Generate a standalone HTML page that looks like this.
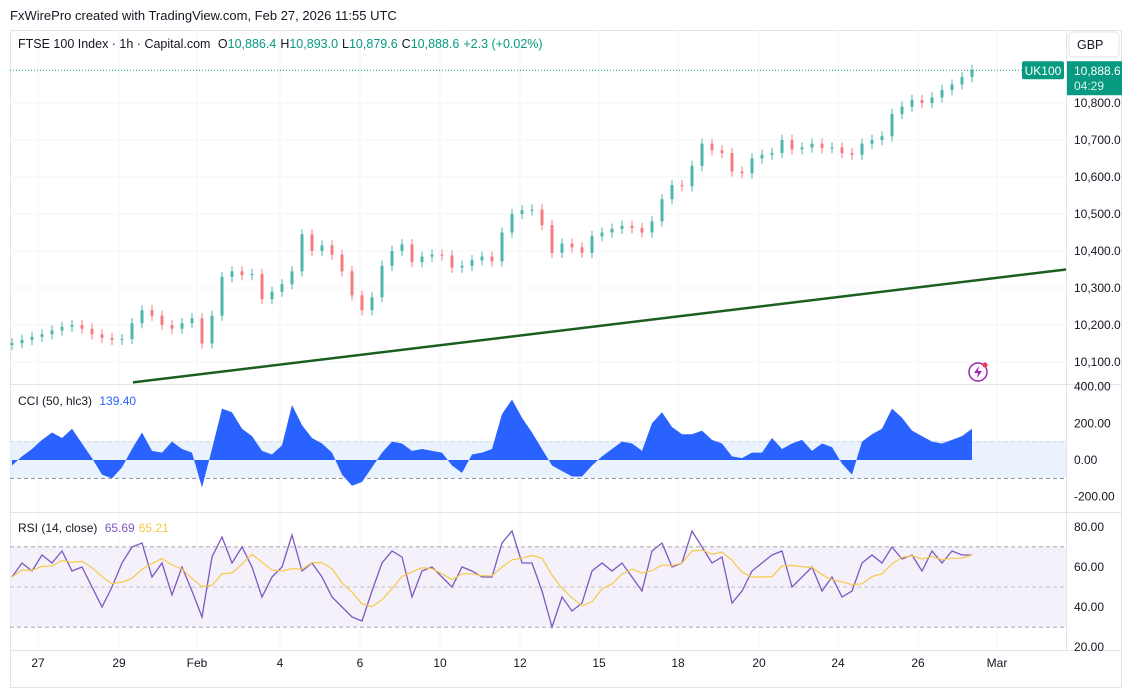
<!DOCTYPE html>
<html><head><meta charset="utf-8"><style>
body{margin:0;background:#fff;font-family:"Liberation Sans",sans-serif;}
svg text{font-family:"Liberation Sans",sans-serif;}
</style></head><body>
<svg id="c" width="1122" height="688" xmlns="http://www.w3.org/2000/svg">
<rect width="1122" height="688" fill="#fff"/>
<text x="10" y="20" font-size="13" fill="#131722">FxWirePro created with TradingView.com, Feb 27, 2026 11:55 UTC</text>
<rect x="10.5" y="30.5" width="1111" height="657" fill="none" stroke="#e0e3eb"/>
<g id="grid"></g>
<rect x="10" y="441" width="1056" height="37" fill="#e3effd" opacity="0.8"/>
<rect x="10" y="547" width="1056" height="80" fill="#ede7f6" opacity="0.6"/>
<g id="marks"></g>
<line x1="10" y1="384.5" x2="1122" y2="384.5" stroke="#e0e3eb"/>
<line x1="10" y1="512.5" x2="1122" y2="512.5" stroke="#e0e3eb"/>
<line x1="10" y1="650.5" x2="1122" y2="650.5" stroke="#e0e3eb"/>
<line x1="1066.5" y1="30" x2="1066.5" y2="650" stroke="#e0e3eb"/>
<text x="18" y="48" font-size="12.5" fill="#131722">FTSE 100 Index · 1h · Capital.com <tspan dx="4">O</tspan><tspan fill="#089981">10,886.4</tspan><tspan dx="4">H</tspan><tspan fill="#089981">10,893.0</tspan><tspan dx="4">L</tspan><tspan fill="#089981">10,879.6</tspan><tspan dx="4">C</tspan><tspan fill="#089981">10,888.6</tspan><tspan dx="4" fill="#089981">+2.3 (+0.02%)</tspan></text>
<rect x="1069" y="32" width="50" height="25" rx="4" fill="#fff" stroke="#e0e3eb"/>
<text x="1077" y="49" font-size="12.5" fill="#131722">GBP</text>
<text x="18" y="405" font-size="12" fill="#131722">CCI (50, hlc3) <tspan dx="4" fill="#2962ff">139.40</tspan></text>
<text x="18" y="532" font-size="12" fill="#131722">RSI (14, close) <tspan dx="4" fill="#7e57c2">65.69</tspan><tspan dx="4" fill="#f7c948">65.21</tspan></text>
<g><circle cx="978" cy="372" r="9" fill="none" stroke="#9c27b0" stroke-width="1.5"/><path d="M979 366 L974 373 L978 373 L977 378 L982 371 L978 371 Z" fill="#9c27b0"/><circle cx="985" cy="365" r="2.5" fill="#f23645"/></g>
<g id="axes"></g>
</svg>
<script>
const closes=[10151,10160,10168,10175,10185,10195,10200,10190,10175,10165,10160,10162,10205,10240,10225,10200,10190,10205,10218,10150,10225,10330,10345,10335,10338,10270,10290,10310,10345,10445,10400,10415,10390,10345,10280,10240,10275,10360,10400,10418,10370,10385,10390,10388,10355,10360,10375,10385,10372,10450,10500,10510,10512,10470,10395,10420,10410,10395,10440,10450,10460,10468,10462,10450,10480,10540,10578,10575,10630,10690,10672,10665,10615,10610,10650,10660,10665,10700,10675,10680,10690,10678,10680,10665,10660,10690,10700,10710,10770,10790,10808,10800,10815,10835,10850,10870,10889];
const cci=[-30,20,60,110,150,120,170,90,10,-80,-100,-40,60,150,50,40,100,60,40,-150,60,280,260,170,130,50,30,80,300,190,120,90,40,-80,-140,-120,-40,40,100,90,50,60,50,40,-30,-70,30,40,60,250,330,230,150,60,-30,-60,-90,-90,-30,20,60,100,90,50,200,260,180,140,140,160,110,90,20,10,40,40,120,60,90,110,50,90,70,-20,-80,100,140,170,280,230,160,130,100,90,110,130,170];
const rsi=[55,62,58,66,62,68,58,60,50,40,50,62,70,72,55,62,46,60,48,35,65,75,62,70,60,45,55,60,76,58,62,55,45,40,35,33,48,62,68,65,45,58,60,55,50,60,58,55,55,72,78,62,62,48,30,45,38,42,58,62,58,62,55,48,68,72,60,62,78,70,62,65,42,48,58,62,66,68,50,55,60,48,55,45,48,62,66,62,70,64,66,58,68,62,68,66,66];
const priceTicks=[10100,10200,10300,10400,10500,10600,10700,10800];
const cciTicks=[400,200,0,-200];
const rsiTicks=[80,60,40,20];
const dateLabels=["27","29","Feb","4","6","10","12","15","18","20","24","26","Mar"];
const dateIdx=[2.6,10.7,18.5,26.8,34.8,42.8,50.8,58.7,66.6,74.7,82.6,90.6,98.5];
const trend=[[12.1,10045],[105.4,10350]];
const lastPrice=10888.6;

const NS="http://www.w3.org/2000/svg";
const xS=i=>12+i*10;
const yP=p=>103+(10800-p)*0.37;
const yC=v=>460-v*0.1835;
const yR=v=>587-(v-50)*2;
function mk(t,a,parent){const e=document.createElementNS(NS,t);for(const k in a)e.setAttribute(k,a[k]);document.getElementById(parent).appendChild(e);return e;}

dateLabels.forEach((d,k)=>{const x=xS(dateIdx[k]);
 const g=mk('line',{x1:x,y1:30,x2:x,y2:650,stroke:'#f3f5fa'},'grid');
 
 
 const t=mk('text',{x:x,y:667,'font-size':12,'text-anchor':'middle',fill:'#131722'},'axes');t.textContent=d;
 
 });
priceTicks.forEach(p=>{const y=yP(p);
 const g=mk('line',{x1:10,y1:y,x2:1066,y2:y,stroke:'#f3f5fa'},'grid');
 
 
 const t=mk('text',{x:1074,y:y+4,'font-size':12,fill:'#131722'},'axes');t.textContent=p.toLocaleString('en-US')+'.0';
 
 });
cciTicks.forEach(v=>{const y=yC(v);
 const t=mk('text',{x:1074,y:y+4,'font-size':12,fill:'#131722'},'axes');t.textContent=v.toFixed(2);
 
 });
rsiTicks.forEach(v=>{const y=yR(v);
 const t=mk('text',{x:1074,y:y+4,'font-size':12,fill:'#131722'},'axes');t.textContent=v.toFixed(2);
 
 });
[100,-100].forEach(v=>{const l=mk('line',{x1:10,y1:yC(v),x2:1066,y2:yC(v),stroke:'#888','stroke-dasharray':'4 3'},'grid');
 
 });
[70,50,30].forEach(v=>{const l=mk('line',{x1:10,y1:yR(v),x2:1066,y2:yR(v),stroke:'#888','stroke-dasharray':'4 3'},'grid');
 
 });

closes.forEach((c,i)=>{const o=i?closes[i-1]:c-5;const up=c>=o;const col=up?'#4db6ac':'#f77c80';
 const hi=Math.max(o,c)+14,lo=Math.min(o,c)-14;const x=xS(i);
 const w=mk('line',{x1:x,y1:yP(hi),x2:x,y2:yP(lo),stroke:col,'stroke-width':1},'marks');
 
 
 const b=mk('rect',{x:x-1.5,y:yP(Math.max(o,c)),width:3,height:Math.max(1,Math.abs(o-c)*0.37),fill:col},'marks');
 
 });

const tl=mk('line',{x1:xS(trend[0][0]),y1:yP(trend[0][1]),x2:xS(trend[1][0]),y2:yP(trend[1][1]),stroke:'#1b5e20','stroke-width':2.5},'marks');



const ly=yP(lastPrice);
const pl=mk('line',{x1:10,y1:ly,x2:1022,y2:ly,stroke:'#089981','stroke-dasharray':'1 2'},'marks');


const sb=mk('rect',{x:1022,y:ly-9,width:42,height:18,rx:2,fill:'#089981'},'marks');


const st=mk('text',{x:1043,y:ly+5,'font-size':12,'text-anchor':'middle',fill:'#fff'},'marks');st.textContent='UK100';


const pb=mk('rect',{x:1066,y:ly-9,width:56,height:34,fill:'#089981'},'marks');


const pt=mk('text',{x:1074,y:ly+5,'font-size':12,fill:'#fff'},'marks');pt.textContent=lastPrice.toLocaleString('en-US',{minimumFractionDigits:1});


const ct=mk('text',{x:1074,y:ly+20,'font-size':12,fill:'#d9f2ee'},'marks');ct.textContent='04:29';



let d='M'+xS(0)+' '+yC(0);
cci.forEach((v,i)=>{d+=' L'+xS(i)+' '+yC(v);});
d+=' L'+xS(cci.length-1)+' '+yC(0)+' Z';
const ca=mk('path',{d:d,fill:'#2962ff'},'marks');



const rp=rsi.map((v,i)=>(i?'L':'M')+xS(i)+' '+yR(v)).join(' ');
const rl=mk('path',{d:rp,fill:'none',stroke:'#7e57c2','stroke-width':1.3},'marks');


const ma=rsi.map((v,i)=>{const s=rsi.slice(Math.max(0,i-4),i+1);return s.reduce((a,b)=>a+b,0)/s.length;});
const mp=ma.map((v,i)=>(i?'L':'M')+xS(i)+' '+yR(v)).join(' ');
const ml=mk('path',{d:mp,fill:'none',stroke:'#f7c948','stroke-width':1.2},'marks');


</script>
</body></html>
